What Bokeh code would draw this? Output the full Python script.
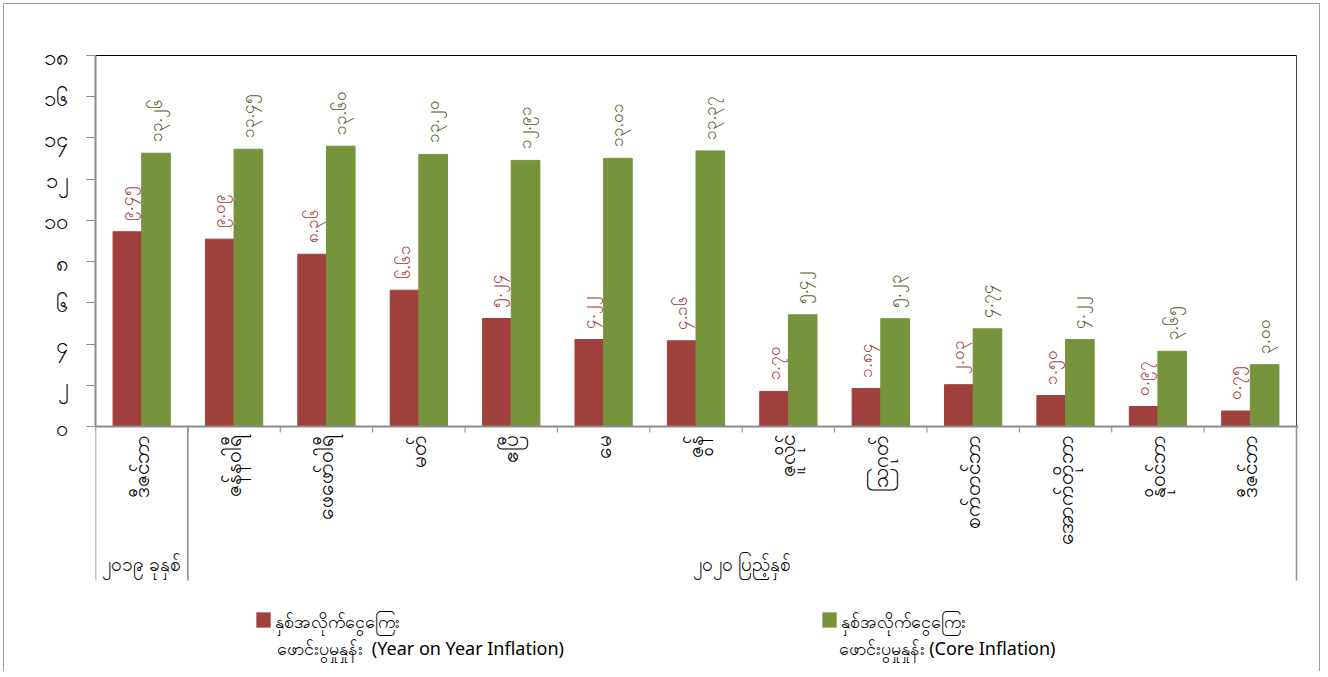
import math
from bokeh.plotting import figure
from bokeh.models import (Range1d, FixedTicker, LabelSet, ColumnDataSource, Label,
                          BoxAnnotation, Span)
from bokeh.embed import file_html
from bokeh.resources import INLINE

# ---------------- data ----------------
months = ["ဒီဇင်ဘာ", "ဇန်နဝါရီ", "ဖေဖော်ဝါရီ", "မတ်", "ဧပြီ", "မေ", "ဇွန်",
          "ဇူလိုင်", "ဩဂုတ်", "စက်တင်ဘာ", "အောက်တိုဘာ", "နိုဝင်ဘာ", "ဒီဇင်ဘာ"]
year_groups = ["၂၀၁၉ ခုနှစ်", "၂၀၂၀ ပြည့်နှစ်"]
year_counts = [1, 12]
yoy_inflation = [9.45, 9.09, 8.36, 6.61, 5.24, 4.22, 4.16, 1.70, 1.84, 2.03, 1.50, 0.97, 0.75]
core_inflation = [13.26, 13.45, 13.60, 13.20, 12.91, 13.01, 13.37, 5.42, 5.23, 4.74, 4.22, 3.65, 3.00]
y_ticks = [0, 2, 4, 6, 8, 10, 12, 14, 16, 18]
legend_line1 = ["နှစ်အလိုက်ငွေကြေး", "နှစ်အလိုက်ငွေကြေး"]
legend_line2 = ["ဖောင်းပွမှုနှုန်း\u00a0 (Year on Year Inflation)", "ဖောင်းပွမှုနှုန်း (Core Inflation)"]

MY_DIGITS = str.maketrans("0123456789", "၀၁၂၃၄၅၆၇၈၉")
def my_num(v, fmt="{:.2f}"):
    return fmt.format(v).translate(MY_DIGITS)

RED = "#A0403D"
GREEN = "#77933C"
RED_TXT = "#A0403D"
GREEN_TXT = "#4F6228"
GREY = "#8C8C8C"
FONT = "Noto Sans"

# ---------------- layout (page pixels) ----------------
W, H = 1323, 677
FL = 95            # x = 0 on the page
X13 = 1296         # x = n on the page
Y18, Y0 = 55, 426  # y = 18 and y = 0 on the page
n = len(months)
ymax = y_ticks[-1]
px_x = (X13 - FL) / n
px_y = (Y0 - Y18) / ymax
FT = Y18 - 2       # frame top (2px headroom so the top line is not clipped)
FR = X13 + 2

def yd(page_y):
    """page y -> data y (for layout elements below the axis)"""
    return (Y0 - page_y) / px_y

y_end = ymax + (Y18 - FT) / px_y
y_start = y_end - (H - FT) / px_y
x_end = n + (FR - X13) / px_x

centers = [i + 0.5 for i in range(n)]
bw = 0.31

p = figure(width=W, height=H, output_backend="svg", toolbar_location=None,
           x_range=Range1d(0, x_end), y_range=Range1d(y_start, y_end),
           min_border_left=FL, min_border_right=W - FR, min_border_top=FT,
           min_border_bottom=0)
p.styles = {"outline": "1px solid #A0A0A0", "outline-offset": "-4px",
            "clip-path": "inset(0 0 6px 0)"}
p.xgrid.visible = False
p.ygrid.visible = False
p.xaxis.visible = False
p.outline_line_color = None
p.background_fill_color = "white"
p.border_fill_color = None

src = ColumnDataSource(dict(
    xr=[c - bw / 2 for c in centers], xg=[c + bw / 2 for c in centers],
    yoy=yoy_inflation, core=core_inflation,
    yoy_lbl=[my_num(v) for v in yoy_inflation],
    core_lbl=[my_num(v) for v in core_inflation],
))

p.vbar(x="xr", top="yoy", width=bw, bottom=0, source=src, fill_color=RED, line_color=RED)
p.vbar(x="xg", top="core", width=bw, bottom=0, source=src, fill_color=GREEN, line_color=GREEN)

p.add_layout(LabelSet(x="xr", y="yoy", text="yoy_lbl", source=src, angle=math.pi / 2,
                      y_offset=11, text_align="left", text_baseline="middle",
                      text_color=RED_TXT, text_font_size="17px", text_font=FONT))
p.add_layout(LabelSet(x="xg", y="core", text="core_lbl", source=src, angle=math.pi / 2,
                      y_offset=11, text_align="left", text_baseline="middle",
                      text_color=GREEN_TXT, text_font_size="17px", text_font=FONT))

# frame top / right lines
p.segment(x0=0, y0=ymax, x1=n, y1=ymax, line_color="black", line_width=1)
p.segment(x0=n, y0=0, x1=n, y1=ymax, line_color="#404040", line_width=1)

# y axis
ya = p.yaxis[0]
ya.ticker = FixedTicker(ticks=y_ticks)
ya.bounds = (0, ymax)
ya.major_label_overrides = {t: my_num(t, "{:d}") for t in y_ticks}
ya.major_tick_out = 9
ya.major_tick_in = 0
ya.minor_tick_line_color = None
ya.major_tick_line_color = GREY
ya.axis_line_color = GREY
ya.axis_line_width = 2
ya.major_label_standoff = 19
ya.major_label_text_font = FONT
ya.major_label_text_font_size = "22px"
ya.major_label_text_color = "black"

# category axis (drawn inside the extended frame)
p.add_layout(Span(location=0, dimension="width", line_color=GREY, line_width=2))
bounds_all = list(range(n + 1))
p.segment(x0=bounds_all, y0=[0] * (n + 1), x1=bounds_all, y1=[yd(Y0 + 6)] * (n + 1),
          line_color=GREY, line_width=1)
p.add_layout(LabelSet(x="centers", y="cat_y", text="month", source=ColumnDataSource(
    dict(centers=centers, cat_y=[0] * n, month=months)),
    angle=math.pi / 2, y_offset=-8, text_align="right", text_baseline="middle",
    text_color="black", text_font_size="21px", text_font=FONT))

# year groups
bounds = [0]
for c in year_counts:
    bounds.append(bounds[-1] + c)
p.segment(x0=bounds, y0=[0] * len(bounds), x1=bounds, y1=[yd(580)] * len(bounds),
          line_color=GREY, line_width=1.5)
for i, g in enumerate(year_groups):
    mid = (bounds[i] + bounds[i + 1]) / 2
    p.add_layout(Label(x=mid, y=yd(563), text=g,
                       text_align="center", text_baseline="middle", text_font=FONT,
                       text_font_size="19px", text_color="black"))

# legend (manual, in screen units relative to the frame's bottom-left)
def sx(page_x):
    return page_x - FL
def sy(page_y):
    return H - page_y

leg = [(256, 274, 276, RED), (822, 840, 838, GREEN)]
for (lx, tx1, tx2, col), t1, t2 in zip(leg, legend_line1, legend_line2):
    p.add_layout(BoxAnnotation(left=sx(lx), right=sx(lx + 14), top=sy(612), bottom=sy(627),
                               left_units="screen", right_units="screen",
                               top_units="screen", bottom_units="screen",
                               fill_color=col, fill_alpha=1, line_color=col))
    p.add_layout(Label(x=sx(tx1), y=sy(620), x_units="screen", y_units="screen", text=t1,
                       text_align="left", text_baseline="middle", text_font=FONT,
                       text_font_size="18px", text_color="black"))
    p.add_layout(Label(x=sx(tx2), y=sy(647), x_units="screen", y_units="screen", text=t2,
                       text_align="left", text_baseline="middle", text_font=FONT,
                       text_font_size="18px", text_color="black"))

open("out.html", "w").write(file_html(p, INLINE))
